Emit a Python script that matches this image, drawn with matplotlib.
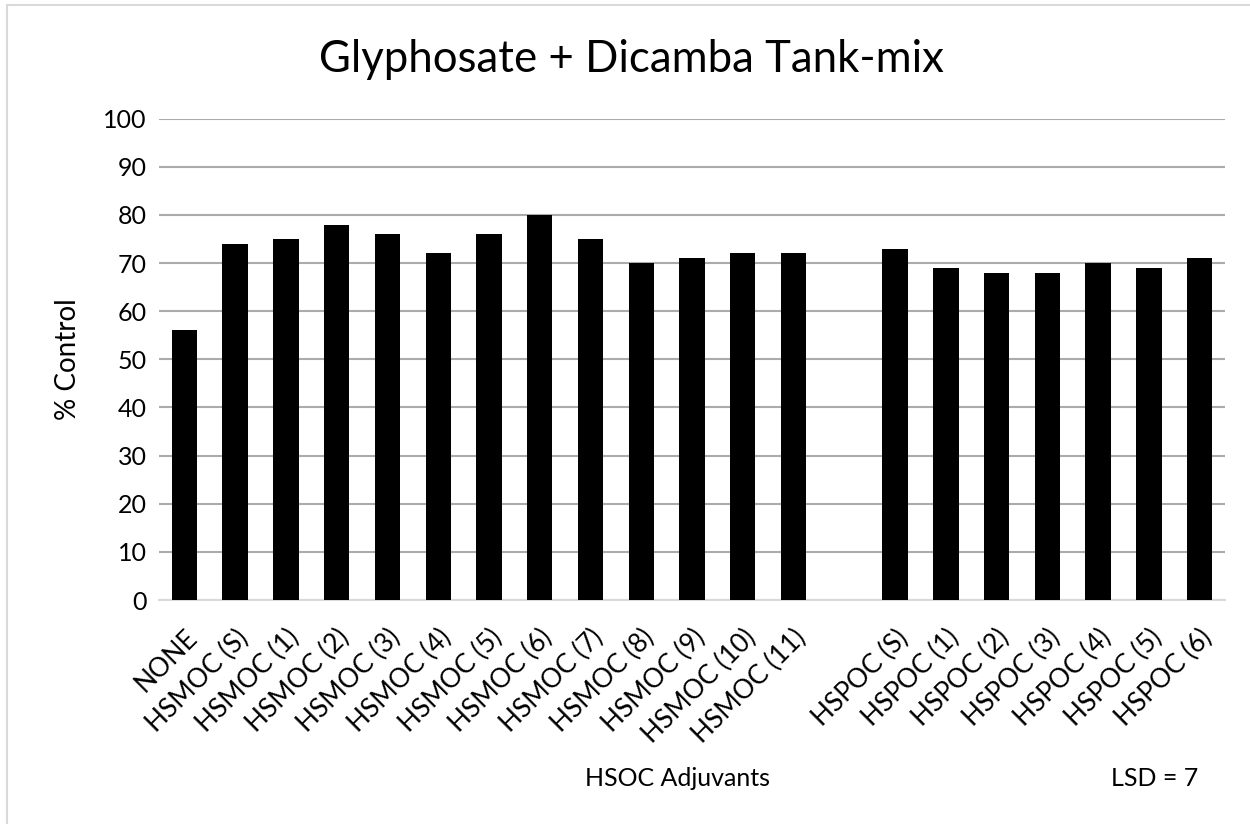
import matplotlib
matplotlib.use("Agg")
import matplotlib.pyplot as plt
from matplotlib.lines import Line2D

plt.rcParams["font.family"] = ["Lato", "DejaVu Sans"]

labels = [
    "NONE", "HSMOC (S)", "HSMOC (1)", "HSMOC (2)", "HSMOC (3)", "HSMOC (4)",
    "HSMOC (5)", "HSMOC (6)", "HSMOC (7)", "HSMOC (8)", "HSMOC (9)",
    "HSMOC (10)", "HSMOC (11)", "",
    "HSPOC (S)", "HSPOC (1)", "HSPOC (2)", "HSPOC (3)", "HSPOC (4)",
    "HSPOC (5)", "HSPOC (6)",
]
control = [56, 74, 75, 78, 76, 72, 76, 80, 75, 70, 71, 72, 72, 0,
           73, 69, 68, 68, 70, 69, 71]

fig = plt.figure(figsize=(12.5, 8.24), dpi=100)
ax = fig.add_axes([0.1272, 0.2718, 0.8528, 0.5842])

x = list(range(len(labels)))
ax.bar(x, control, width=0.5, color="black", zorder=3)

ax.set_xlim(-0.5, len(labels) - 0.5)
ax.set_ylim(0, 100)
ax.set_yticks(range(0, 101, 10))
ax.yaxis.grid(True, color="#ababab", linewidth=1.5, zorder=0)
ax.set_xticks(x)
ax.set_xticklabels(labels, rotation=45, ha="right", rotation_mode="anchor", fontsize=19)
ax.tick_params(axis="y", length=0, labelsize=18, pad=9)
ax.tick_params(axis="x", length=0, pad=18)
for side in ["top", "right", "left"]:
    ax.spines[side].set_visible(False)
ax.spines["bottom"].set_color("#d9d9d9")
ax.spines["bottom"].set_linewidth(1.5)

ax.set_ylabel("% Control", fontsize=20, labelpad=16)
fig.text(0.505, 0.928, "Glyphosate + Dicamba Tank-mix", ha="center", va="center", fontsize=31.5)
fig.text(0.542, 0.055, "HSOC Adjuvants", ha="center", va="center", fontsize=18)
fig.text(0.924, 0.055, "LSD = 7", ha="center", va="center", fontsize=18)

# chart border (left and top only visible)
fig.add_artist(Line2D([0.0052, 0.0052], [0, 0.994], color="#d9d9d9", linewidth=1.5))
fig.add_artist(Line2D([0.0052, 1], [0.994, 0.994], color="#d9d9d9", linewidth=1.5))

fig.savefig("out.png", dpi=100)
